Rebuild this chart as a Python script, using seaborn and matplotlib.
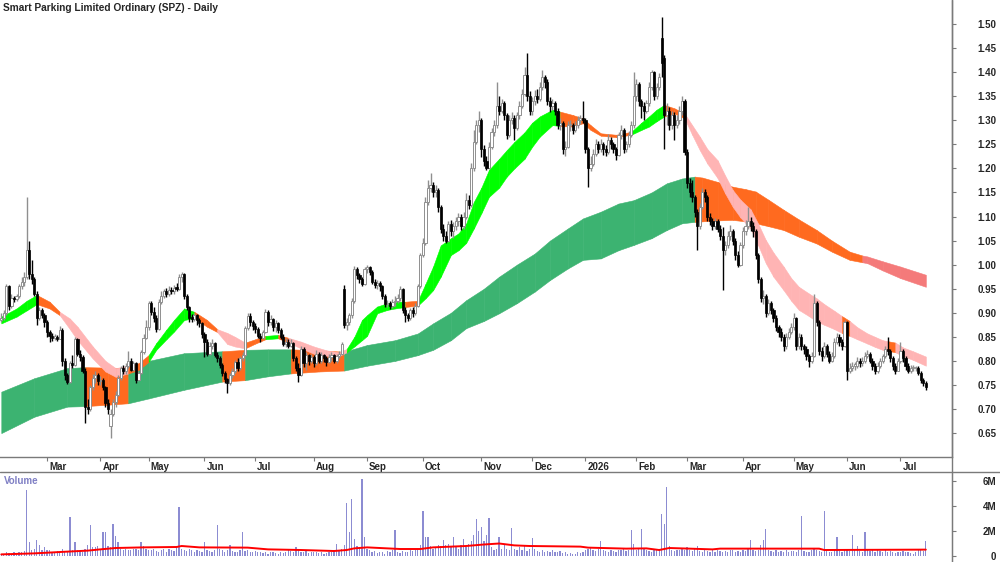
import numpy as np
import pandas as pd
import matplotlib
matplotlib.use("Agg")
import matplotlib.pyplot as plt
import seaborn as sns
from matplotlib.lines import Line2D
from matplotlib.transforms import ScaledTranslation

sns.set_style("white")
plt.rcParams['font.family'] = ['Liberation Sans', 'DejaVu Sans']

# 1. Trading calendar (ASX days, Feb 2025 - Jul 2026)
asx_holidays = ['2025-04-18', '2025-04-21', '2025-04-25', '2025-06-09', '2025-12-25',
                '2025-12-26', '2026-01-01', '2026-01-26', '2026-04-03', '2026-04-06', '2026-06-08']
dates = pd.bdate_range('2025-02-05', '2026-07-15')
dates = dates[~dates.isin(pd.to_datetime(asx_holidays))]

# 2. Daily prices (one row per month)
close = [
    0.890,0.900,0.955,0.915,0.930,0.928,0.935,0.955,0.965,0.975,1.030,0.980,0.970,0.940,0.890,0.905,0.895,0.880,
    0.860,0.852,0.848,0.850,0.846,0.865,0.800,0.770,0.756,0.795,0.792,0.845,0.815,0.808,0.780,0.705,0.700,0.745,0.765,0.770,0.758,
    0.760,0.745,0.712,0.700,0.690,0.715,0.730,0.765,0.785,0.778,0.790,0.800,0.782,0.795,0.760,0.775,0.818,0.848,0.870,
    0.920,0.902,0.890,0.866,0.922,0.935,0.945,0.940,0.948,0.945,0.952,0.950,0.975,0.980,0.935,0.912,0.890,0.888,0.895,0.885,0.878,0.855,
    0.840,0.815,0.830,0.838,0.812,0.805,0.792,0.775,0.762,0.755,0.770,0.778,0.798,0.785,0.805,0.812,0.868,0.893,0.880,0.872,
    0.866,0.852,0.848,0.860,0.902,0.880,0.888,0.870,0.878,0.865,0.850,0.835,0.840,0.832,0.838,0.805,0.785,0.770,0.825,0.795,0.812,0.800,0.808,
    0.795,0.815,0.800,0.812,0.805,0.798,0.808,0.812,0.800,0.810,0.815,0.835,0.875,0.880,0.895,0.925,0.990,0.978,0.970,0.960,0.990,
    0.995,0.985,0.965,0.958,0.962,0.955,0.935,0.918,0.920,0.915,0.922,0.925,0.930,0.950,0.905,0.895,0.890,0.905,0.900,0.915,0.955,1.020,
    1.045,1.130,1.160,1.165,1.150,1.155,1.120,1.075,1.060,1.050,1.085,1.070,1.080,1.090,1.100,1.080,1.100,1.135,1.125,1.200,1.255,1.290,1.300,
    1.240,1.215,1.200,1.245,1.275,1.290,1.330,1.320,1.335,1.310,1.270,1.300,1.305,1.285,1.310,1.330,1.355,1.395,1.350,1.320,
    1.340,1.350,1.345,1.370,1.390,1.380,1.340,1.330,1.335,1.320,1.290,1.295,1.240,1.245,1.290,1.290,1.280,1.290,1.300,1.305,1.300,
    1.240,1.200,1.210,1.230,1.250,1.240,1.250,1.240,1.235,1.260,1.250,1.240,1.228,1.270,1.280,1.240,1.250,1.270,1.290,1.350,
    1.375,1.340,1.330,1.320,1.335,1.370,1.400,1.350,1.370,1.390,1.420,1.310,1.320,1.290,1.310,1.290,1.300,1.320,1.340,1.235,
    1.170,1.150,1.140,1.110,1.080,1.120,1.150,1.140,1.100,1.090,1.080,1.090,1.075,1.060,1.030,1.040,1.060,1.070,1.050,1.020,1.000,1.040,
    1.070,1.080,1.090,1.080,1.070,1.020,0.970,0.930,0.935,0.900,0.920,0.905,0.890,0.870,0.860,0.850,0.830,0.850,0.860,0.870,
    0.890,0.830,0.850,0.830,0.825,0.810,0.800,0.810,0.920,0.880,0.820,0.810,0.830,0.815,0.800,0.810,0.840,0.850,0.840,0.830,0.880,
    0.780,0.785,0.790,0.790,0.800,0.795,0.800,0.810,0.815,0.800,0.790,0.780,0.790,0.800,0.810,0.825,0.820,0.805,0.790,0.780,0.800,
    0.820,0.805,0.790,0.780,0.785,0.785,0.785,0.775,0.760,0.755,0.745,
]
high = [
    0.900,0.905,0.960,0.958,0.938,0.935,0.940,0.960,0.975,0.985,1.140,1.050,1.010,0.975,0.945,0.912,0.910,0.900,
    0.885,0.865,0.858,0.855,0.853,0.872,0.868,0.805,0.775,0.800,0.812,0.850,0.848,0.822,0.812,0.785,0.720,0.750,0.772,0.778,0.775,
    0.768,0.765,0.748,0.720,0.700,0.720,0.738,0.770,0.790,0.792,0.795,0.820,0.805,0.800,0.798,0.780,0.822,0.855,0.885,
    0.925,0.925,0.912,0.895,0.928,0.945,0.950,0.952,0.955,0.954,0.958,0.962,0.980,0.985,0.982,0.940,0.915,0.898,0.900,0.898,0.890,0.880,
    0.860,0.845,0.840,0.845,0.840,0.818,0.810,0.796,0.780,0.765,0.775,0.785,0.802,0.805,0.810,0.818,0.872,0.900,0.900,0.885,
    0.878,0.870,0.858,0.865,0.908,0.905,0.895,0.890,0.885,0.880,0.868,0.855,0.848,0.845,0.845,0.840,0.810,0.795,0.830,0.828,0.818,0.815,0.815,
    0.812,0.822,0.818,0.818,0.815,0.810,0.814,0.818,0.815,0.815,0.820,0.840,0.958,0.890,0.900,0.930,0.998,0.995,0.982,0.975,0.995,
    1.000,0.998,0.988,0.970,0.968,0.966,0.958,0.940,0.926,0.925,0.928,0.935,0.938,0.955,0.952,0.912,0.900,0.910,0.912,0.920,0.960,1.025,
    1.055,1.140,1.175,1.190,1.172,1.165,1.160,1.125,1.085,1.070,1.090,1.092,1.088,1.100,1.108,1.105,1.110,1.148,1.145,1.212,1.280,1.300,1.320,
    1.305,1.248,1.225,1.255,1.285,1.300,1.380,1.350,1.345,1.340,1.315,1.310,1.318,1.310,1.318,1.340,1.365,1.410,1.440,1.360,
    1.348,1.362,1.365,1.380,1.405,1.395,1.385,1.348,1.345,1.340,1.325,1.305,1.298,1.258,1.298,1.300,1.295,1.298,1.308,1.312,1.340,
    1.305,1.245,1.225,1.240,1.262,1.258,1.262,1.255,1.248,1.272,1.265,1.255,1.245,1.275,1.290,1.285,1.258,1.278,1.298,1.400,
    1.385,1.380,1.345,1.338,1.342,1.380,1.405,1.402,1.378,1.398,1.515,1.435,1.335,1.328,1.320,1.318,1.312,1.330,1.350,1.345,
    1.240,1.180,1.175,1.145,1.115,1.128,1.160,1.158,1.145,1.108,1.098,1.098,1.095,1.082,1.078,1.050,1.070,1.082,1.075,1.055,1.028,1.048,
    1.078,1.092,1.120,1.100,1.088,1.075,1.025,0.975,0.948,0.940,0.928,0.925,0.910,0.895,0.875,0.868,0.855,0.858,0.868,0.878,
    0.900,0.892,0.858,0.855,0.835,0.830,0.815,0.818,0.940,0.925,0.885,0.828,0.840,0.835,0.820,0.818,0.848,0.858,0.855,0.845,0.885,
    0.882,0.795,0.798,0.798,0.808,0.805,0.808,0.818,0.822,0.818,0.805,0.795,0.798,0.806,0.815,0.832,0.850,0.825,0.810,0.795,0.806,
    0.840,0.825,0.810,0.795,0.792,0.792,0.790,0.790,0.780,0.765,0.758,
]
low = [
    0.880,0.885,0.895,0.905,0.910,0.922,0.925,0.930,0.950,0.955,0.970,0.970,0.960,0.935,0.875,0.885,0.890,0.870,
    0.850,0.840,0.842,0.844,0.842,0.845,0.790,0.760,0.752,0.755,0.785,0.790,0.810,0.800,0.775,0.670,0.690,0.695,0.740,0.755,0.750,
    0.750,0.740,0.705,0.690,0.639,0.685,0.705,0.728,0.760,0.772,0.772,0.785,0.778,0.778,0.755,0.758,0.772,0.815,0.845,
    0.865,0.895,0.880,0.860,0.865,0.918,0.930,0.932,0.935,0.938,0.940,0.945,0.948,0.965,0.928,0.905,0.880,0.880,0.882,0.875,0.870,0.848,
    0.808,0.810,0.812,0.825,0.808,0.798,0.785,0.768,0.755,0.733,0.750,0.765,0.775,0.780,0.782,0.800,0.810,0.865,0.872,0.865,
    0.858,0.848,0.840,0.845,0.858,0.872,0.875,0.862,0.860,0.858,0.845,0.830,0.828,0.826,0.828,0.800,0.778,0.757,0.768,0.788,0.782,0.792,0.795,
    0.788,0.792,0.795,0.796,0.798,0.790,0.795,0.800,0.795,0.796,0.805,0.812,0.868,0.865,0.875,0.890,0.920,0.970,0.962,0.955,0.958,
    0.982,0.978,0.960,0.952,0.950,0.945,0.928,0.912,0.912,0.908,0.910,0.915,0.920,0.925,0.900,0.880,0.882,0.885,0.892,0.895,0.912,0.952,
    1.015,1.040,1.125,1.150,1.140,1.140,1.110,1.065,1.050,1.044,1.048,1.060,1.055,1.072,1.080,1.072,1.075,1.095,1.115,1.120,1.195,1.250,1.275,
    1.224,1.205,1.197,1.198,1.240,1.268,1.285,1.310,1.315,1.300,1.262,1.265,1.292,1.260,1.280,1.302,1.325,1.350,1.340,1.310,
    1.312,1.332,1.335,1.340,1.362,1.368,1.332,1.318,1.322,1.312,1.282,1.280,1.230,1.225,1.242,1.278,1.272,1.275,1.285,1.292,1.295,
    1.232,1.162,1.195,1.205,1.225,1.232,1.235,1.228,1.225,1.230,1.240,1.232,1.217,1.225,1.262,1.232,1.235,1.245,1.265,1.285,
    1.340,1.330,1.305,1.300,1.315,1.330,1.362,1.342,1.345,1.362,1.390,1.240,1.290,1.280,1.282,1.260,1.285,1.292,1.312,1.228,
    1.160,1.140,1.130,1.100,1.030,1.075,1.115,1.130,1.090,1.082,1.072,1.075,1.068,1.052,0.947,1.020,1.035,1.052,1.040,1.010,0.996,0.998,
    1.035,1.062,1.075,1.070,1.058,1.012,0.962,0.922,0.918,0.892,0.895,0.898,0.880,0.862,0.850,0.842,0.820,0.825,0.845,0.855,
    0.865,0.822,0.825,0.822,0.815,0.802,0.788,0.795,0.808,0.872,0.812,0.800,0.805,0.808,0.795,0.798,0.805,0.835,0.832,0.822,0.828,
    0.760,0.775,0.778,0.782,0.785,0.788,0.790,0.795,0.805,0.795,0.782,0.772,0.775,0.785,0.795,0.805,0.812,0.798,0.782,0.772,0.778,
    0.795,0.798,0.782,0.775,0.775,0.778,0.778,0.770,0.755,0.748,0.740,
]
first_open = 0.885
gap_opens = {43: 0.665, 135: 0.950, 260: 1.470, 261: 1.430}

# volume in millions of shares
volume_m = [
    0.15,0.2,0.3,0.25,0.2,0.3,0.25,0.35,0.3,0.4,5.28,1.15,0.48,0.6,1.28,0.88,0.5,0.75,
    0.45,0.5,0.3,0.25,0.4,0.35,0.55,0.4,0.35,3.15,0.5,1.09,0.45,0.4,0.3,0.6,0.85,2.48,0.7,0.75,0.8,
    0.6,1.9,1.9,0.8,0.7,2.6,1.6,1.1,0.6,0.5,0.55,0.45,0.5,0.6,0.55,0.5,1.1,0.8,0.6,
    0.5,0.45,0.6,0.4,0.35,0.5,0.55,0.3,0.6,0.45,0.4,0.7,3.95,0.6,0.5,0.4,0.55,0.45,0.35,0.5,0.4,0.3,
    1.1,0.45,0.4,0.3,0.5,2.48,0.6,0.45,0.35,0.5,0.9,0.4,0.35,0.3,0.45,1.9,0.4,0.5,0.35,0.3,
    0.4,0.35,0.3,0.25,0.3,0.2,0.35,0.3,0.25,0.2,0.3,0.25,0.35,0.5,0.4,0.3,0.7,0.45,0.35,0.3,0.4,0.25,0.3,
    0.3,0.35,0.25,0.3,0.2,0.25,0.3,0.35,0.5,1.0,0.4,0.6,0.9,4.27,1.9,4.59,1.4,0.8,0.7,6.13,1.55,
    0.6,0.5,0.3,0.4,0.25,0.35,0.3,0.2,0.4,0.3,0.5,2.05,0.3,0.25,0.4,0.35,0.3,0.5,0.4,0.45,0.6,0.9,
    3.6,1.5,1.5,0.8,0.6,0.7,0.9,0.8,1.3,0.9,1.0,0.7,1.55,0.8,0.6,0.9,1.4,0.7,1.0,1.2,1.7,3.0,2.0,
    2.35,1.2,1.65,3.05,0.7,0.5,0.6,1.5,0.55,0.97,0.6,0.5,2.25,0.6,0.45,0.7,0.5,0.85,0.4,0.6,
    1.45,0.6,0.4,0.3,0.5,0.35,0.4,0.3,0.5,0.35,0.3,0.4,0.25,0.3,0.2,0.25,0.15,0.2,0.3,0.25,0.35,
    0.5,0.6,0.7,0.5,0.4,0.6,1.2,0.5,0.4,0.35,0.5,0.4,0.3,0.5,0.45,0.6,0.4,0.5,2.05,1.0,
    0.5,0.6,2.2,0.6,0.5,0.4,0.35,0.5,0.6,0.45,3.35,2.6,5.5,0.8,0.5,0.4,0.45,0.5,0.6,0.5,
    0.7,0.5,0.4,0.55,0.8,0.4,0.35,0.5,0.4,0.3,0.45,0.35,0.5,0.4,0.3,0.4,0.35,0.45,0.5,0.3,0.4,0.35,
    0.5,0.4,0.6,1.25,0.5,0.4,0.5,0.9,1.3,2.2,0.5,0.4,0.35,0.45,0.3,0.4,0.35,0.5,0.3,0.4,
    0.4,0.3,0.5,3.2,0.4,0.35,0.3,0.45,0.6,0.5,0.4,0.35,3.6,0.4,0.3,0.35,0.5,1.55,0.4,0.3,0.45,
    0.5,0.4,1.65,0.5,0.8,0.4,0.35,1.95,0.5,0.4,0.45,0.35,0.5,0.4,0.3,0.45,0.35,0.4,0.3,0.25,0.35,
    0.3,0.4,0.35,0.3,0.25,0.2,0.3,0.6,0.5,0.4,1.2,
]

# volume moving average (red line), read at knots
vol_ma_day = [0,13,26,34,39,45,56,69,71,78,97,105,118,131,136,139,144,157,165,170,183,190,196,202,208,
              228,231,246,254,259,263,280,283,322,324,364]
vol_ma = [0.13,0.21,0.35,0.43,0.53,0.64,0.69,0.72,0.80,0.69,0.67,0.53,0.48,0.40,0.48,0.61,0.69,0.56,0.56,0.69,
          0.80,0.92,1.00,0.85,0.80,0.75,0.67,0.59,0.61,0.48,0.64,0.53,0.59,0.59,0.48,0.51]

# 3. Short-term ribbon (fast averages): day, top, bottom, state G/O/P
short_day = [0,6,10,14,19,23,27,30,36,41,45,50,54,58,61,65,68,72,76,81,85,89,92,96,100,104,109,113,118,123,
             128,133,136,139,142,144,148,152,155,159,164,167,170,173,177,180,183,186,189,192,196,199,202,206,209,
             212,217,220,225,229,232,236,242,248,252,255,258,261,265,269,272,275,278,282,285,288,291,295,298,301,
             304,308,311,314,318,321,324,328,331,334,337,341,344,347,349,352,355,359,364]
short_top = [0.892,0.909,0.925,0.937,0.923,0.902,0.888,0.871,0.830,0.800,0.785,0.790,0.795,0.812,0.837,0.865,0.885,
             0.909,0.902,0.885,0.866,0.858,0.850,0.838,0.845,0.852,0.854,0.848,0.840,0.830,0.822,0.818,0.825,0.850,
             0.885,0.895,0.913,0.920,0.923,0.923,0.925,0.960,0.996,1.040,1.055,1.065,1.085,1.130,1.160,1.197,1.220,
             1.238,1.255,1.275,1.295,1.308,1.322,1.318,1.311,1.304,1.290,1.273,1.270,1.276,1.295,1.308,1.322,1.332,
             1.325,1.314,1.290,1.266,1.240,1.217,1.185,1.155,1.135,1.115,1.085,1.051,1.025,0.996,0.972,0.954,0.940,
             0.930,0.918,0.904,0.893,0.883,0.870,0.857,0.850,0.843,0.841,0.838,0.828,0.820,0.809]
short_bot = [0.878,0.892,0.905,0.918,0.909,0.895,0.866,0.843,0.805,0.778,0.767,0.774,0.781,0.798,0.823,0.845,0.861,
             0.885,0.889,0.871,0.860,0.835,0.830,0.826,0.836,0.845,0.847,0.838,0.826,0.815,0.810,0.810,0.818,0.830,
             0.843,0.852,0.899,0.906,0.909,0.912,0.915,0.930,0.947,0.975,1.020,1.030,1.045,1.075,1.107,1.141,1.160,
             1.183,1.200,1.220,1.245,1.266,1.290,1.288,1.287,1.294,1.280,1.268,1.265,1.270,1.280,1.287,1.298,1.308,
             1.314,1.304,1.270,1.238,1.210,1.180,1.148,1.120,1.098,1.075,1.040,1.003,0.975,0.947,0.925,0.906,0.893,
             0.882,0.875,0.866,0.858,0.852,0.845,0.836,0.829,0.823,0.821,0.818,0.810,0.802,0.790]
short_state = list("GGGOO" + "P" * 6 + "OO" + "G" * 5 + "OO" + "PPP" + "OO" + "G" + "O" + "P" * 5 + "G" * 7 + "O"
                   + "G" * 17 + "O" * 6 + "G" * 4 + "OO" + "P" * 19 + "O" + "P" * 5 + "O" + "P" * 4)

# Long-term ribbon (slow averages): day, top, bottom, state G/O/R
long_day = [0,13,26,33,42,50,58,72,87,96,105,114,125,135,144,155,164,170,177,183,190,196,203,210,216,223,229,
            236,243,249,256,262,268,273,276,282,288,293,297,302,308,314,321,327,334,339,341,347,354,364]
long_top = [0.736,0.764,0.785,0.787,0.786,0.785,0.800,0.816,0.820,0.823,0.824,0.824,0.822,0.819,0.833,0.843,0.857,
            0.878,0.900,0.926,0.950,0.975,1.000,1.023,1.050,1.075,1.096,1.110,1.127,1.134,1.150,1.169,1.179,1.183,
            1.181,1.172,1.162,1.157,1.152,1.135,1.114,1.094,1.072,1.050,1.027,1.019,1.017,1.007,0.996,0.979]
long_bot = [0.650,0.684,0.705,0.706,0.709,0.712,0.722,0.740,0.757,0.760,0.768,0.774,0.778,0.780,0.790,0.800,0.812,
            0.823,0.843,0.868,0.883,0.899,0.920,0.944,0.968,0.992,1.010,1.013,1.030,1.041,1.055,1.072,1.086,1.089,
            1.090,1.092,1.093,1.090,1.086,1.080,1.072,1.058,1.044,1.027,1.010,1.005,1.003,0.988,0.972,0.954]
long_state = list("GGGOOGGGOGGOOG" + "G" * 19 + "O" * 12 + "R" * 5)

short_colors = {'G': '#00ff00', 'O': '#ff6a1f', 'P': '#ffb4b4'}
long_colors = {'G': '#3cb371', 'O': '#ff6a1f', 'R': '#f47a7a'}

title = 'Smart Parking Limited Ordinary (SPZ) - Daily'
month_labels = ['Mar', 'Apr', 'May', 'Jun', 'Jul', 'Aug', 'Sep', 'Oct', 'Nov', 'Dec',
                '2026', 'Feb', 'Mar', 'Apr', 'May', 'Jun', 'Jul']
price_ticks = np.round(np.arange(0.65, 1.501, 0.05), 2)
vol_ticks = [0, 2, 4, 6]
vol_tick_labels = ['0', '2M', '4M', '6M']

# 4. Build frame
df = pd.DataFrame({'date': dates, 'close': close, 'high': high, 'low': low, 'volume': volume_m})
df['open'] = [first_open] + close[:-1]
for k, v in gap_opens.items():
    df.loc[k, 'open'] = v
df['day'] = np.arange(len(df))
df['up'] = df['close'] >= df['open']
month_start = df.groupby(df['date'].dt.to_period('M'))['day'].min().values[1:]

# 5. Figure
fig = plt.figure(figsize=(10, 5.62), dpi=100)
ax = fig.add_axes([0, 105 / 562, 0.952, 457 / 562])
axv = fig.add_axes([0, 0, 0.952, 90 / 562])

def draw_ribbon(a, days, top, bot, state, colors, z):
    for k in range(len(days) - 1):
        col = colors[state[k]]
        a.fill_between(days[k:k + 2], bot[k:k + 2], top[k:k + 2], color=col, ec=col, lw=0.4, zorder=z)

draw_ribbon(ax, long_day, long_top, long_bot, long_state, long_colors, 1)
draw_ribbon(ax, short_day, short_top, short_bot, short_state, short_colors, 2)

up = df[df['up']]
dn = df[~df['up']]
ax.vlines(up['day'], up['low'], up['high'], color='#8f8f8f', lw=1.0, zorder=3)
ax.vlines(dn['day'], dn['low'], dn['high'], color='black', lw=1.0, zorder=3)
ax.bar(up['day'], np.maximum(up['close'] - up['open'], 0.003), bottom=up['open'], width=0.85,
       color='white', edgecolor='#8f8f8f', lw=0.7, zorder=4)
ax.bar(dn['day'], np.maximum(dn['open'] - dn['close'], 0.003), bottom=dn['close'], width=0.85,
       color='black', edgecolor='black', lw=0.5, zorder=4)

ax.set_xlim(-0.51, 374.3)
ax.set_ylim(0.6003, 1.550)
ax.yaxis.tick_right()
ax.set_yticks(price_ticks)
ax.set_yticklabels([f'{t:.2f}' for t in price_ticks])
ax.set_xticks(month_start)
ax.set_xticklabels(month_labels)
for s in ['top', 'left']:
    ax.spines[s].set_visible(False)
for s in ['right', 'bottom']:
    ax.spines[s].set_color('#7a7a7a')
    ax.spines[s].set_linewidth(1.0)
ax.tick_params(axis='y', which='both', direction='out', length=3, color='#7a7a7a', pad=29,
               labelsize=7, right=True, left=False)
ax.tick_params(axis='x', direction='out', length=3, color='#7a7a7a', pad=0.5, labelsize=7, bottom=True)
for lab in ax.get_yticklabels():
    lab.set_horizontalalignment('right')
    lab.set_fontweight('bold')
shift = ScaledTranslation(2 / 100, 0, fig.dpi_scale_trans)
for lab in ax.get_xticklabels():
    lab.set_horizontalalignment('left')
    lab.set_fontweight('bold')
    lab.set_transform(lab.get_transform() + shift)

# volume panel
axv.bar(df['day'], df['volume'], width=0.5, color='#8c8cd2', lw=0, zorder=2)
sns.lineplot(x=vol_ma_day, y=vol_ma, ax=axv, color='#ff0000', lw=1.4, zorder=3)
axv.set_xlim(-0.51, 374.3)
axv.set_ylim(-0.48, 6.72)
axv.yaxis.tick_right()
axv.set_yticks(vol_ticks)
axv.set_yticklabels(vol_tick_labels)
axv.set_xticks([])
for s in ['top', 'left', 'bottom']:
    axv.spines[s].set_visible(False)
axv.spines['right'].set_color('#7a7a7a')
axv.tick_params(axis='y', direction='out', length=3, color='#7a7a7a', pad=29, labelsize=7, right=True, left=False)
for lab in axv.get_yticklabels():
    lab.set_horizontalalignment('right')
    lab.set_fontweight('bold')
axv.set_xlabel('')
axv.set_ylabel('')
axv.text(0.004, 0.895, 'Volume', transform=axv.transAxes, color='#7f7fc4', fontsize=7, fontweight='bold',
         ha='left', va='center')

# frame lines around the month band
fig.add_artist(Line2D([0, 1], [90 / 562, 90 / 562], color='#7a7a7a', lw=1.0))
fig.add_artist(Line2D([0.952, 0.952], [0, 1], color='#7a7a7a', lw=1.0))

fig.text(0.003, 1 - 8 / 562, title, ha='left', va='center', fontsize=7.3, fontweight='bold')

fig.savefig('out.png', dpi=100)
